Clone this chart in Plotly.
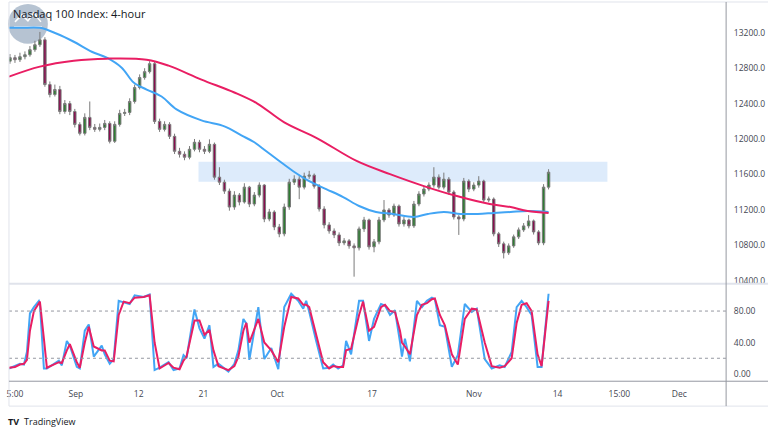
import plotly.graph_objects as go

# ---------------- data ----------------
opens = [12880,12919,12896,12930,12952,13009,13065,13121,12615,12502,12559,12311,12401,12311,12165,12064,12244,12131,12109,12131,
         12176,11974,12165,12289,12300,12424,12581,12694,12761,12851,12199,12109,12165,12030,11861,11828,11794,11884,11963,11884,
         11861,11940,11569,11512,11411,11231,11366,11288,11456,11265,11366,11479,11096,11175,11006,10928,11231,11512,11546,11456,
         11580,11591,11467,11209,11029,10961,10916,10826,10849,10792,10770,10984,11085,10781,10838,11085,11198,11141,11242,11040,
         11085,11018,11265,11378,11434,11479,11569,11456,11546,11400,11119,11096,11524,11434,11479,11524,11310,11321,10928,10815,
         10714,10792,10894,10973,11018,11074,10950,10826,11456]
highs = [12960,12950,12975,12990,13050,13110,13210,13150,12650,12615,12600,12440,12430,12340,12190,12290,12424,12170,12175,12215,
         12200,12200,12330,12340,12460,12615,12730,12800,12880,12870,12230,12200,12190,12060,11900,11860,11920,12000,11990,11920,
         11996,11960,11681,11540,11440,11410,11390,11500,11470,11400,11510,11490,11210,11195,11040,11270,11550,11590,11580,11620,
         11640,11610,11490,11240,11060,10990,10945,10880,10870,10820,11010,11120,11100,10870,11120,11310,11220,11270,11260,11120,
         11100,11300,11410,11470,11510,11681,11600,11620,11570,11420,11140,11560,11545,11510,11580,11540,11350,11340,10950,10840,
         10820,10920,11000,11050,11140,11090,10970,11490,11659]
lows = [12850,12860,12870,12900,12930,12985,13040,12590,12470,12480,12280,12285,12270,12130,12040,12040,12100,12080,12085,12100,
        11950,11955,12140,12260,12270,12400,12560,12670,12740,12170,12080,12085,12000,11830,11790,11760,11770,11860,11850,11830,
        11840,11540,11480,11380,11190,11200,11250,11270,11230,11240,11340,11060,11070,10970,10890,10900,11200,11480,11320,11430,
        11550,11440,11180,10990,10930,10880,10790,10800,10760,10444,10740,10950,10750,10720,10810,11060,11110,11120,11010,11010,
        10990,10995,11240,11350,11410,11450,11430,11430,11370,11090,10916,11070,11400,11410,11450,11280,11285,10900,10780,10650,
        10690,10770,10870,10950,10990,10920,10800,10800,11430]
closes = [12919,12896,12930,12952,13009,13065,13121,12615,12502,12559,12311,12401,12311,12165,12064,12244,12131,12109,12131,12176,
          11974,12165,12289,12300,12424,12581,12694,12761,12851,12199,12109,12165,12030,11861,11828,11794,11884,11963,11884,11861,
          11940,11569,11512,11411,11231,11366,11288,11456,11265,11366,11479,11096,11175,11006,10928,11231,11512,11546,11456,11580,
          11591,11467,11209,11029,10961,10916,10826,10849,10792,10770,10984,11085,10781,10838,11085,11198,11141,11242,11040,11085,
          11018,11265,11378,11434,11479,11569,11456,11546,11400,11119,11096,11524,11434,11479,11524,11310,11321,10928,10815,10714,
          10792,10894,10973,11018,11074,10950,10826,11456,11625]
bars = list(range(len(closes)))

ma_fast_t = [-0.2,2.4,6,9.4,12.8,16.4,19.4,22.4,24.8,27.4,30.4,33.4,38.4,43,46.4,49,51.4,53.8,56.8,60,63.4,66.8,70,73.4,76.8,81,83.8,87,90.4,93.8,97,100.4,103.8,108]
ma_fast = [13256,13256,13256,13189,13099,12986,12919,12806,12638,12559,12480,12334,12210,12143,12041,11963,11861,11760,11636,11524,11434,11344,11243,11175,11153,11119,11153,11175,11153,11153,11164,11175,11186,11175]
ma_slow_t = [-0.2,6,12.8,19.4,27.4,31.8,38.4,45,49.6,55,61.6,69.6,76.2,83,89.6,96.2,100.4,103.8,108]
ma_slow = [12705,12818,12885,12908,12896,12829,12671,12525,12401,12188,12008,11749,11603,11468,11355,11265,11231,11186,11164]

zone_low, zone_high = 11516, 11743
zone_start, zone_end = 37.8, 119.8

stoch_t = [-0.2,1,2,2.8,3.4,4,4.8,5.8,6,6.8,7.4,9.8,10.4,11.4,12,13.4,14,15,15.8,16.8,18.4,19,20,20.8,21.8,22.8,24,25,26.8,28,
           29,30,31.8,32.8,34,34.8,35.4,37,38,39,40,40.8,41.8,43.8,45,45.8,46.8,47.4,48,49.8,51,52.4,53.8,55,56.4,57.8,58.8,59.4,60,
           61.4,62.8,64,64.8,65.8,66.8,67.4,68.4,70,70.8,72,73,74.4,75.2,76.2,77.2,78.2,78.6,79.2,80.2,81.6,82.6,83.6,84.6,85.2,86.2,
           87.2,88.6,89.8,91.2,92.6,93.6,95.2,96.6,98.2,99.2,100.6,101.6,102.6,103.6,104.6,105.8,106.6,108]
stoch_k = [7,10,13,12,28,77,85,93,90,7,7,17,11,42,36,9,7,55,63,22,36,25,13,19,93,91,89,100,98,101,
           5,8,15,5,7,24,20,82,58,45,62,9,13,3,13,30,70,64,18,85,19,33,6,85,102,93,83,93,79,
           42,7,8,12,7,11,42,25,93,93,42,70,89,87,75,81,41,22,45,16,93,85,93,97,95,62,
           60,9,24,89,79,83,19,7,11,9,28,85,93,85,75,9,9,102]
stoch_d = [8,9,12,13,18,55,80,90,92,45,8,15,14,30,38,15,8,40,60,35,30,30,17,16,75,92,90,97,98,100,
           40,7,14,8,6,17,22,68,68,50,56,30,10,5,10,22,55,65,40,70,40,30,15,60,98,96,88,88,85,
           50,15,7,10,9,9,30,32,75,92,55,60,85,88,80,79,55,40,35,25,75,88,90,95,96,75,
           62,25,12,70,83,82,40,10,8,10,20,65,88,90,80,25,10,93]

price_ticks = [10400, 10800, 11200, 11600, 12000, 12400, 12800, 13200]
stoch_ticks = [0, 40, 80]
stoch_levels = [20, 80]
time_tick_pos = [1.0, 13.2, 25.8, 38.8, 53.6, 72.6, 93.0, 109.8, 122.2, 134.2]
time_tick_text = ["5:00", "Sep", "12", "21", "Oct", "17", "Nov", "14", "15:00", "Dec"]

# ---------------- figure ----------------
W, H = 768, 432
def px(x): return x / W
def py(y): return 1 - y / H

BLUE = "#42a5f5"
PINK = "#e91e63"
FONT = "Open Sans"
TXT = "#434651"

fig = go.Figure()

fig.add_trace(go.Candlestick(
    x=bars, open=opens, high=highs, low=lows, close=closes,
    increasing=dict(fillcolor="#2e7d32", line=dict(color="#7a7a7a", width=1)),
    decreasing=dict(fillcolor="#880e4f", line=dict(color="#7a7a7a", width=1)),
    whiskerwidth=0, xaxis="x", yaxis="y", showlegend=False, hoverinfo="skip"))

fig.add_trace(go.Scatter(x=ma_fast_t, y=ma_fast, mode="lines", line=dict(color=BLUE, width=2, shape="spline"),
                         xaxis="x", yaxis="y", showlegend=False, hoverinfo="skip"))
fig.add_trace(go.Scatter(x=ma_slow_t, y=ma_slow, mode="lines", line=dict(color=PINK, width=2, shape="spline"),
                         xaxis="x", yaxis="y", showlegend=False, hoverinfo="skip"))

fig.add_trace(go.Scatter(x=stoch_t, y=stoch_k, mode="lines", line=dict(color=BLUE, width=2),
                         xaxis="x2", yaxis="y2", showlegend=False, hoverinfo="skip"))
fig.add_trace(go.Scatter(x=stoch_t, y=stoch_d, mode="lines", line=dict(color=PINK, width=2),
                         xaxis="x2", yaxis="y2", showlegend=False, hoverinfo="skip"))

shapes = []
shapes.append(dict(type="rect", xref="x", yref="y", x0=zone_start, x1=zone_end, y0=zone_low, y1=zone_high,
                   fillcolor="#ddebfb", line=dict(width=0), layer="below"))
for lv in stoch_levels:
    shapes.append(dict(type="line", xref="x2 domain", yref="y2", x0=0, x1=1, y0=lv, y1=lv,
                       line=dict(color="#9598a1", width=1, dash="dot")))
shapes.append(dict(type="circle", xref="paper", yref="paper", x0=px(6), x1=px(46), y0=py(44), y1=py(4),
                   fillcolor="#a9b8ca", line=dict(width=0), layer="below", opacity=0.85))
shapes.append(dict(type="path", xref="paper", yref="paper",
                   path=f"M {px(13)} {py(22)} L {px(20)} {py(15)} L {px(26)} {py(21)} L {px(32)} {py(13)} L {px(39)} {py(22)}",
                   line=dict(color="white", width=1.5), layer="below"))
shapes.append(dict(type="line", xref="paper", yref="paper", x0=px(12), x1=px(40), y0=py(27), y1=py(27),
                   line=dict(color="white", width=1), layer="below"))
shapes += [
    dict(type="line", xref="paper", yref="paper", x0=px(7), x1=1, y0=py(2), y1=py(2), line=dict(color="#e0e3eb", width=1)),
    dict(type="line", xref="paper", yref="paper", x0=px(7), x1=px(7), y0=py(2), y1=py(408), line=dict(color="#e0e3eb", width=1)),
    dict(type="line", xref="paper", yref="paper", x0=px(7), x1=1, y0=py(285), y1=py(285), line=dict(color="#e0e3eb", width=2)),
    dict(type="line", xref="paper", yref="paper", x0=px(7), x1=1, y0=py(383), y1=py(383), line=dict(color="#9598a1", width=1)),
    dict(type="line", xref="paper", yref="paper", x0=px(7), x1=1, y0=py(408), y1=py(408), line=dict(color="#e0e3eb", width=1)),
    dict(type="line", xref="paper", yref="paper", x0=px(726), x1=px(726), y0=py(2), y1=py(408), line=dict(color="#9598a1", width=1)),
]

annotations = [
    dict(text="Nasdaq 100 Index: 4-hour", xref="paper", yref="paper", x=px(9), y=py(14), xanchor="left", yanchor="middle",
         showarrow=False, font=dict(family=FONT, size=11, color="#131722")),
    dict(text="<b>TV</b>", xref="paper", yref="paper", x=px(4), y=py(423), xanchor="left", yanchor="middle",
         showarrow=False, font=dict(family=FONT, size=9, color="#131722")),
    dict(text="TradingView", xref="paper", yref="paper", x=px(20), y=py(423), xanchor="left", yanchor="middle",
         showarrow=False, font=dict(family=FONT, size=9, color="#131722")),
]

xdom = [px(7), px(726)]
xrange = [-0.2, 143.6]
TF = dict(family=FONT, size=8.5, color=TXT)
fig.update_layout(
    width=W, height=H, margin=dict(l=0, r=0, t=0, b=0),
    paper_bgcolor="white", plot_bgcolor="white",
    font=dict(family=FONT, size=9, color=TXT),
    showlegend=False, shapes=shapes, annotations=annotations,
    xaxis=dict(domain=xdom, range=xrange, anchor="y", showticklabels=False, showgrid=False, zeroline=False,
               rangeslider=dict(visible=False), showline=False, ticks=""),
    xaxis2=dict(domain=xdom, range=xrange, anchor="y2", matches="x", showgrid=False, zeroline=False, showline=False,
                tickmode="array", tickvals=time_tick_pos, ticktext=time_tick_text,
                ticks="outside", ticklen=5, tickcolor="rgba(0,0,0,0)", tickfont=TF),
    yaxis=dict(domain=[py(285), py(3)], range=[10365, 13537], side="right", anchor="x", showgrid=False, zeroline=False,
               tickmode="array", tickvals=price_ticks, ticktext=[f"{v:.1f}" for v in price_ticks],
               ticks="outside", ticklen=5, tickcolor="rgba(0,0,0,0)", tickfont=TF),
    yaxis2=dict(domain=[py(383), py(285)], range=[-9.2, 114.8], side="right", anchor="x2", showgrid=False, zeroline=False,
                tickmode="array", tickvals=stoch_ticks, ticktext=[f"{v:.2f}" for v in stoch_ticks],
                ticks="outside", ticklen=5, tickcolor="rgba(0,0,0,0)", tickfont=TF),
)

fig.write_html("out.html")
